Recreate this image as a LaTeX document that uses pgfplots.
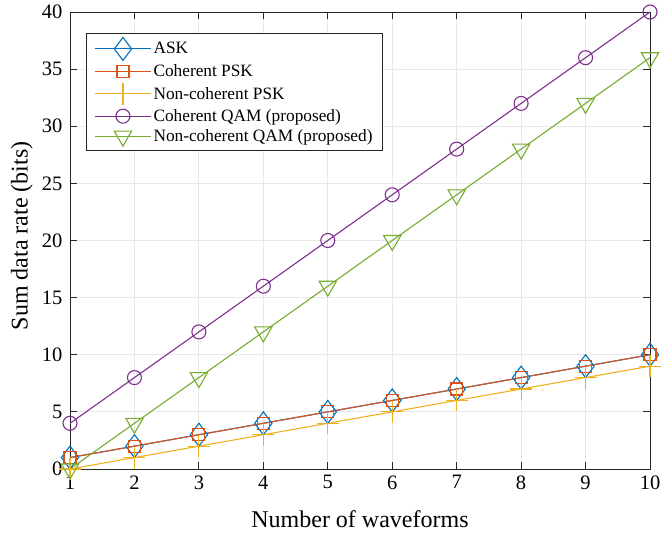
\documentclass[border=0pt]{standalone}
\usepackage{fontspec}
\setmainfont{Liberation Serif}
\usepackage{pgfplots}
\pgfplotsset{compat=1.18}

\definecolor{mblue}{rgb}{0,0.447,0.741}
\definecolor{morange}{rgb}{0.85,0.325,0.098}
\definecolor{myellow}{rgb}{0.929,0.694,0.125}
\definecolor{mpurple}{rgb}{0.494,0.184,0.556}
\definecolor{mgreen}{rgb}{0.466,0.674,0.188}

\begin{document}
\begin{tikzpicture}
\begin{axis}[
  scale only axis,
  width=580pt, height=457pt,
  xmin=1, xmax=10, ymin=0, ymax=40,
  xtick={1,...,10},
  ytick={0,5,...,40},
  tick align=inside,
  grid=major,
  major grid style={gray!18, line width=0.8pt},
  axis line style={black!85, line width=0.8pt},
  tick style={black!85, line width=0.8pt},
  major tick length=7pt,
  every tick label/.append style={font=\fontsize{20.5}{23}\selectfont},
  yticklabel style={xshift=-4pt},
  xticklabel style={yshift=-3pt},
  /pgf/number format/assume math mode=true,
  xlabel={Number of waveforms},
  ylabel={Sum data rate (bits)},
  label style={font=\fontsize{24}{28}\selectfont},
  xlabel style={at={(axis description cs:0.5,-0.11)}, anchor=center},
  ylabel style={at={(axis description cs:-0.083,0.51)}, anchor=center},
  legend style={at={(axis description cs:0.0276,0.954)}, anchor=north west,
    font=\fontsize{17.3}{20}\selectfont, draw=black!85, line width=0.8pt,
    row sep=2.5pt, inner xsep=8pt, inner ysep=4pt},
  legend cell align=left,
  legend image code/.code={
    \draw[line width=1.1pt, mark repeat=2, mark phase=2] plot coordinates {(6pt,0pt) (34pt,0pt) (62pt,0pt)};},
  every axis plot/.append style={line width=1.1pt},
]
\addplot[mblue, mark=diamond, mark size=11.5pt] coordinates {
(1,1) (2,2) (3,3) (4,4) (5,5) (6,6) (7,7) (8,8) (9,9) (10,10)};
\addlegendentry{ASK}
\addplot[morange, mark=square, mark size=6pt] coordinates {
(1,1) (2,2) (3,3) (4,4) (5,5) (6,6) (7,7) (8,8) (9,9) (10,10)};
\addlegendentry{Coherent PSK}
\addplot[myellow, mark=+, mark size=11pt] coordinates {
(1,0) (2,1) (3,2) (4,3) (5,4) (6,5) (7,6) (8,7) (9,8) (10,9)};
\addlegendentry{Non-coherent PSK}
\addplot[mpurple, mark=o, mark size=7pt] coordinates {
(1,4) (2,8) (3,12) (4,16) (5,20) (6,24) (7,28) (8,32) (9,36) (10,40)};
\addlegendentry{Coherent QAM (proposed)}
\addplot[mgreen, mark=triangle, mark size=10pt, mark options={rotate=180}] coordinates {
(1,0) (2,4) (3,8) (4,12) (5,16) (6,20) (7,24) (8,28) (9,32) (10,36)};
\addlegendentry{Non-coherent QAM (proposed)}
\end{axis}
\pgfresetboundingbox
\path ([shift={(-70pt,-66pt)}]current axis.south west) rectangle ([shift={(12pt,12pt)}]current axis.north east);
\end{tikzpicture}
\end{document}
